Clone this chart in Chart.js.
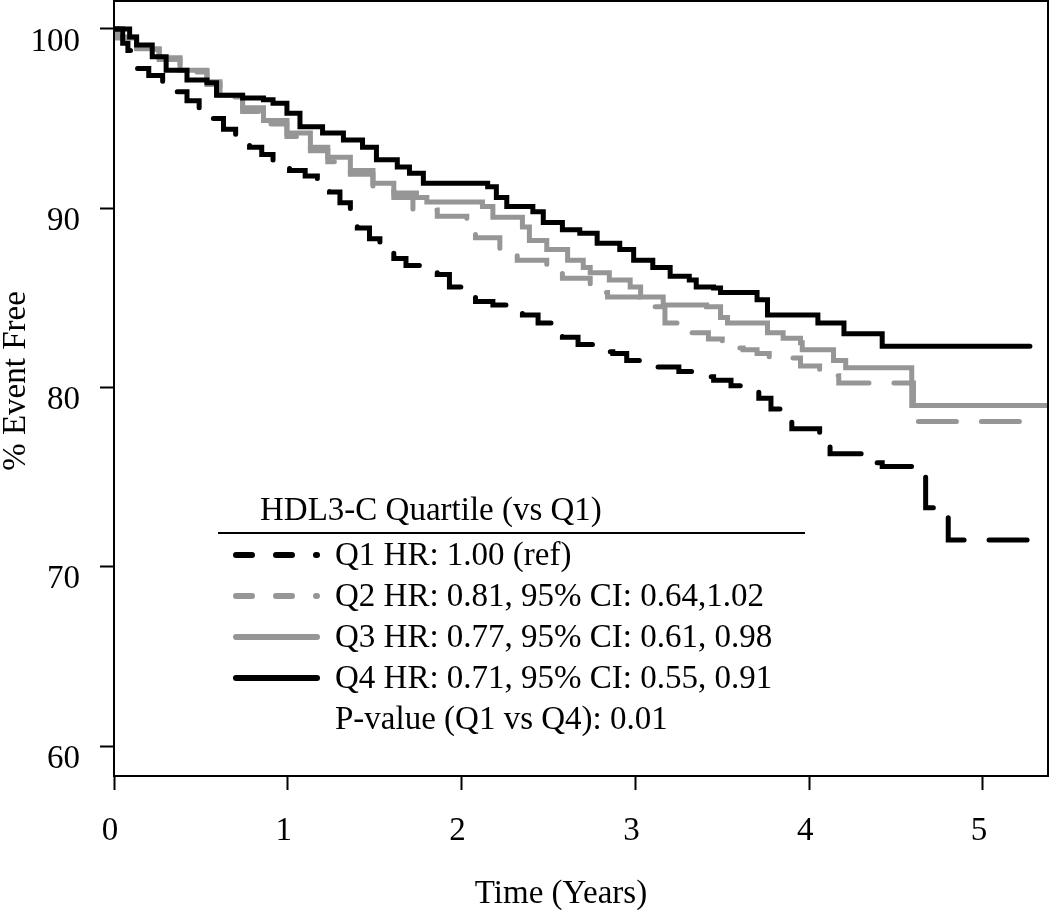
<!DOCTYPE html>
<html>
<head>
<meta charset="utf-8">
<script src="https://cdn.jsdelivr.net/npm/chart.js@4"></script>
<style>
  html, body { margin: 0; padding: 0; background: #ffffff; }
  canvas { display: block; }
</style>
</head>
<body>
<canvas id="kmChart" width="1050" height="912"></canvas>
<script>
// Kaplan-Meier curves by HDL3-C quartile (time in years, % event free)
const q1Time = [0, 0.05, 0.08, 0.13, 0.20, 0.28, 0.36, 0.42, 0.49, 0.57, 0.63, 0.70, 0.78, 0.85, 0.915, 1.01, 1.10, 1.17, 1.24, 1.30, 1.36, 1.40, 1.47, 1.53, 1.61, 1.68, 1.76, 1.86, 1.93, 2.01, 2.08, 2.18, 2.28, 2.35, 2.44, 2.52, 2.58, 2.67, 2.76, 2.87, 2.95, 3.03, 3.25, 3.35, 3.45, 3.55, 3.63, 3.71, 3.78, 3.84, 3.90, 4.06, 4.12, 4.31, 4.42, 4.67, 4.80, 5.34];
const q1Pct  = [100, 99.2, 98.8, 97.8, 97.4, 97.0, 96.5, 96.0, 95.5, 95.0, 94.4, 93.8, 93.4, 93.0, 92.6, 92.1, 91.8, 91.4, 90.9, 90.3, 89.7, 88.9, 88.3, 87.7, 87.2, 86.8, 86.5, 86.3, 85.6, 85.3, 84.8, 84.6, 84.3, 84.05, 83.6, 83.2, 82.8, 82.4, 82.0, 81.9, 81.5, 81.15, 80.9, 80.6, 80.4, 80.1, 79.9, 79.4, 78.8, 78.3, 77.7, 77.0, 76.3, 75.8, 75.6, 73.3, 71.5, 71.5];

const q2Time = [0, 0.02, 0.13, 0.26, 0.38, 0.535, 0.61, 0.74, 0.86, 0.995, 1.13, 1.23, 1.36, 1.49, 1.61, 1.72, 1.86, 2.03, 2.08, 2.22, 2.32, 2.49, 2.58, 2.74, 2.84, 3.10, 3.17, 3.24, 3.42, 3.50, 3.62, 3.70, 3.77, 3.95, 4.06, 4.10, 4.17, 4.60, 5.33];
const q2Pct  = [100, 99.5, 98.85, 98.3, 97.6, 96.9, 96.2, 95.4, 94.7, 94.0, 93.2, 92.6, 91.9, 91.2, 90.6, 89.9, 89.55, 89.05, 88.35, 87.5, 87.1, 86.55, 86.1, 85.3, 85.05, 84.5, 83.6, 83.05, 82.7, 82.2, 82.1, 81.9, 81.65, 81.2, 80.8, 80.65, 80.25, 78.1, 78.1];

const q3Time = [0, 0.02, 0.13, 0.26, 0.38, 0.535, 0.61, 0.74, 0.86, 0.995, 1.13, 1.23, 1.36, 1.49, 1.61, 1.74, 1.80, 2.12, 2.18, 2.35, 2.39, 2.49, 2.61, 2.70, 2.74, 2.85, 2.97, 3.03, 3.16, 3.41, 3.49, 3.53, 3.76, 3.85, 3.95, 3.96, 4.14, 4.21, 4.59, 5.38];
const q3Pct  = [100, 99.55, 98.9, 98.4, 97.7, 97.05, 96.3, 95.6, 94.9, 94.2, 93.4, 92.85, 92.1, 91.4, 90.85, 90.6, 90.35, 90.1, 89.5, 88.95, 88.2, 87.7, 87.1, 86.7, 86.4, 86.0, 85.6, 85.05, 84.6, 84.5, 83.9, 83.6, 83.05, 82.75, 82.5, 82.1, 81.5, 81.1, 79.0, 79.0];

const q4Time = [0, 0.09, 0.13, 0.22, 0.30, 0.42, 0.535, 0.59, 0.74, 0.86, 0.915, 0.995, 1.07, 1.20, 1.32, 1.43, 1.51, 1.63, 1.70, 1.78, 2.15, 2.20, 2.26, 2.41, 2.47, 2.58, 2.68, 2.78, 2.91, 2.99, 3.10, 3.20, 3.31, 3.35, 3.45, 3.49, 3.70, 3.76, 4.05, 4.20, 4.42, 5.27];
const q4Pct  = [100, 99.55, 99.1, 98.45, 97.7, 97.15, 97.0, 96.3, 96.15, 96.05, 95.85, 95.3, 94.55, 94.2, 93.8, 93.4, 92.7, 92.3, 91.95, 91.4, 91.2, 90.6, 90.1, 89.8, 89.2, 88.8, 88.6, 88.05, 87.7, 87.1, 86.7, 86.2, 86.0, 85.6, 85.55, 85.3, 84.9, 84.05, 83.6, 83.0, 82.3, 82.3];

const xTicks = [0, 1, 2, 3, 4, 5];
const yTicks = [60, 70, 80, 90, 100];

const legendTitle = 'HDL3-C Quartile (vs Q1)';
const legendLabels = [
    'Q1 HR: 1.00 (ref)',
    'Q2 HR: 0.81, 95% CI: 0.64,1.02',
    'Q3 HR: 0.77, 95% CI: 0.61, 0.98',
    'Q4 HR: 0.71, 95% CI: 0.55, 0.91'
];
const pValueText = 'P-value (Q1 vs Q4): 0.01';

const BLACK = '#000000';
const GREY = '#969696';
const FONT = '"Liberation Serif", "Times New Roman", serif';

function toPoints(times, pcts) {
    return times.map(function(t, i) { return { x: t, y: pcts[i] }; });
}

// legend, axis titles and the closing box are drawn by hand
const decorPlugin = {
    id: 'decor',
    afterDraw: function(chart) {
        const ctx = chart.ctx;
        const area = chart.chartArea;
        ctx.save();

        // box round the plot
        ctx.strokeStyle = BLACK;
        ctx.lineWidth = 2;
        ctx.strokeRect(area.left, area.top, area.right - area.left, area.bottom - area.top);

        // axis titles
        ctx.fillStyle = BLACK;
        ctx.font = '33px ' + FONT;
        ctx.textAlign = 'center';
        ctx.textBaseline = 'alphabetic';
        ctx.fillText('Time (Years)', 561, 903);
        ctx.save();
        ctx.translate(25, 381);
        ctx.rotate(-Math.PI / 2);
        ctx.fillText('% Event Free', 0, 0);
        ctx.restore();

        // legend
        ctx.textAlign = 'left';
        ctx.fillText(legendTitle, 260, 520);
        ctx.beginPath();
        ctx.lineWidth = 2;
        ctx.moveTo(218, 533);
        ctx.lineTo(805, 533);
        ctx.stroke();

        const styles = [
            { color: BLACK, dash: [16, 24] },
            { color: GREY, dash: [16, 24] },
            { color: GREY, dash: [] },
            { color: BLACK, dash: [] }
        ];
        legendLabels.forEach(function(label, i) {
            const base = 565 + i * 41;
            ctx.beginPath();
            ctx.strokeStyle = styles[i].color;
            ctx.lineWidth = 6;
            ctx.lineCap = 'round';
            ctx.setLineDash(styles[i].dash);
            ctx.moveTo(236, base - 10);
            ctx.lineTo(317, base - 10);
            ctx.stroke();
            ctx.setLineDash([]);
            ctx.fillStyle = BLACK;
            ctx.fillText(label, 335, base);
        });
        ctx.fillText(pValueText, 335, 565 + 4 * 41);

        ctx.restore();
    }
};

document.addEventListener('DOMContentLoaded', function() {
    const ctx = document.getElementById('kmChart').getContext('2d');

    const lineBase = {
        borderWidth: 5,
        pointRadius: 0,
        stepped: true,
        tension: 0,
        fill: false,
        borderCapStyle: 'round',
        borderJoinStyle: 'miter'
    };

    new Chart(ctx, {
        type: 'line',
        data: {
            datasets: [
                Object.assign({}, lineBase, {
                    label: 'Q4',
                    data: toPoints(q4Time, q4Pct),
                    borderColor: BLACK,
                    order: 0
                }),
                Object.assign({}, lineBase, {
                    label: 'Q1',
                    data: toPoints(q1Time, q1Pct),
                    borderColor: BLACK,
                    borderDash: [38, 25],
                    order: 1
                }),
                Object.assign({}, lineBase, {
                    label: 'Q3',
                    data: toPoints(q3Time, q3Pct),
                    borderColor: GREY,
                    order: 2
                }),
                Object.assign({}, lineBase, {
                    label: 'Q2',
                    data: toPoints(q2Time, q2Pct),
                    borderColor: GREY,
                    borderDash: [38, 25],
                    order: 3
                })
            ]
        },
        options: {
            responsive: false,
            animation: false,
            devicePixelRatio: 1,
            layout: {
                padding: { left: 0, right: 2, top: 1, bottom: 0 }
            },
            plugins: {
                legend: { display: false },
                tooltip: { enabled: false }
            },
            scales: {
                x: {
                    type: 'linear',
                    min: 0,
                    max: 5.374,
                    afterFit: function(scale) {
                        scale.height = 136;
                        scale.paddingLeft = 0;
                        scale.paddingRight = 0;
                    },
                    afterBuildTicks: function(scale) {
                        scale.ticks = xTicks.map(function(v) { return { value: v }; });
                    },
                    border: { display: false },
                    grid: {
                        drawOnChartArea: false,
                        drawTicks: true,
                        tickLength: 14,
                        tickWidth: 2,
                        tickColor: BLACK
                    },
                    ticks: {
                        color: BLACK,
                        font: { family: FONT, size: 33 },
                        padding: 22,
                        labelOffset: -4,
                        maxRotation: 0,
                        autoSkip: false
                    }
                },
                y: {
                    min: 58.33,
                    max: 101.56,
                    afterFit: function(scale) {
                        scale.width = 114;
                        scale.paddingTop = 0;
                        scale.paddingBottom = 0;
                    },
                    afterBuildTicks: function(scale) {
                        scale.ticks = yTicks.map(function(v) { return { value: v }; });
                    },
                    border: { display: false },
                    grid: {
                        drawOnChartArea: false,
                        drawTicks: true,
                        tickLength: 14,
                        tickWidth: 2,
                        tickColor: BLACK
                    },
                    ticks: {
                        color: BLACK,
                        font: { family: FONT, size: 33 },
                        padding: 20,
                        labelOffset: 13,
                        autoSkip: false
                    }
                }
            }
        },
        plugins: [decorPlugin]
    });
});
</script>
</body>
</html>
